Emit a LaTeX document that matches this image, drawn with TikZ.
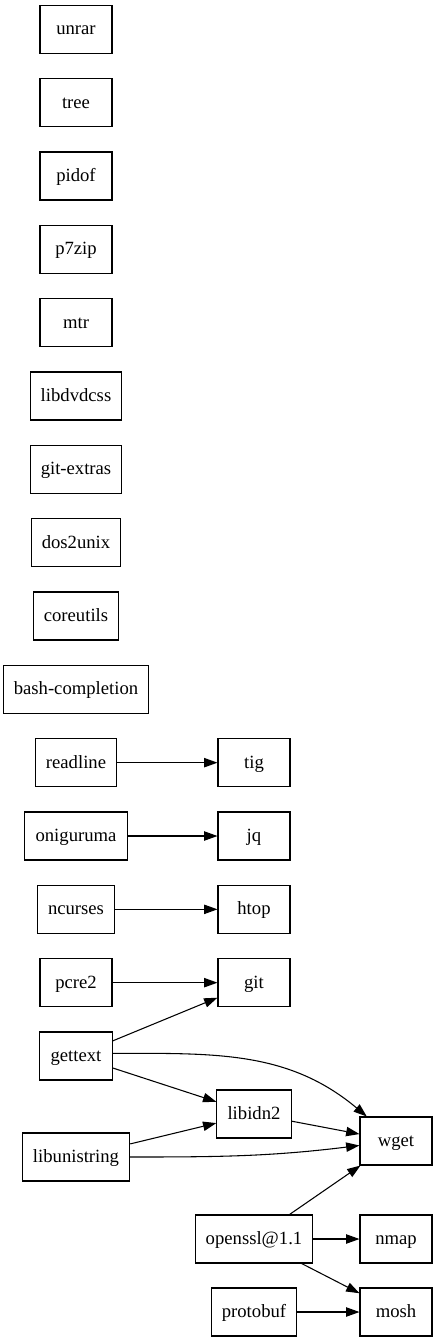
\documentclass[tikz,border=0pt]{standalone}
\usepackage{fontspec}
\setmainfont{Liberation Serif}
\usetikzlibrary{positioning,arrows.meta}

\begin{document}
\begin{tikzpicture}[->, >={Triangle[length=10pt,width=7pt]}, x=1pt, y=1pt, line width=0.8pt, node distance=55pt, pkg/.style={rectangle, draw=black, minimum width=54pt, minimum height=36pt, inner xsep=8pt, text height=11pt, text depth=2.8pt, font=\fontsize{14pt}{16pt}\selectfont}]
        \useasboundingbox (0,0) rectangle (327.75,-1007.25);

        \node[pkg] (unrar) at (57,-22) {unrar};
        \node[pkg] (tree) [below of=unrar] {tree};
        \node[pkg] (pidof) [below of=tree] {pidof};
        \node[pkg] (p7zip) [below of=pidof] {p7zip};
        \node[pkg] (mtr) [below of=p7zip] {mtr};
        \node[pkg] (libdvdcss) [below of=mtr] {libdvdcss};
        \node[pkg] (gitextras) [below of=libdvdcss] {git-extras};
        \node[pkg] (dos2unix) [below of=gitextras] {dos2unix};
        \node[pkg] (coreutils) [below of=dos2unix] {coreutils};
        \node[pkg] (bashcompl) [below of=coreutils] {bash-completion};
        \node[pkg] (readline) [below of=bashcompl] {readline};
        \node[pkg] (oniguruma) [below of=readline] {oniguruma};
        \node[pkg] (ncurses) [below of=oniguruma] {ncurses};
        \node[pkg] (pcre2) [below of=ncurses] {pcre2};
        \node[pkg] (gettext) [below of=pcre2] {gettext};
        \node[pkg] (libunistring) at (57,-867.75) {libunistring};

        \node[pkg] (tig) [right of=readline, node distance=133.5pt] {tig};
        \node[pkg] (jq) [right of=oniguruma, node distance=133.5pt] {jq};
        \node[pkg] (htop) [right of=ncurses, node distance=133.5pt] {htop};
        \node[pkg] (git) [right of=pcre2, node distance=133.5pt] {git};
        \node[pkg] (libidn2) at (190.5,-835.5) {libidn2};
        \node[pkg] (wget) at (297,-855.75) {wget};
        \node[pkg] (openssl) at (190.5,-929.25) {openssl@1.1};
        \node[pkg] (nmap) [right of=openssl, node distance=106.5pt] {nmap};
        \node[pkg] (protobuf) at (190.5,-984) {protobuf};
        \node[pkg] (mosh) [right of=protobuf, node distance=106.5pt] {mosh};

        \path (readline) edge (tig)
            (oniguruma) edge (jq)
            (ncurses) edge (htop)
            (pcre2) edge (git)
            (gettext) edge (git)
            (gettext) edge (libidn2)
            ([yshift=2pt]gettext.east) edge [out=0, in=140] (wget)
            (libunistring) edge (libidn2)
            (libunistring.east) edge [out=0, in=187] (wget)
            (libidn2) edge (wget)
            (openssl) edge (wget)
            (openssl) edge (nmap)
            (openssl) edge (mosh)
            (protobuf) edge (mosh);
    \end{tikzpicture}
\end{document}
